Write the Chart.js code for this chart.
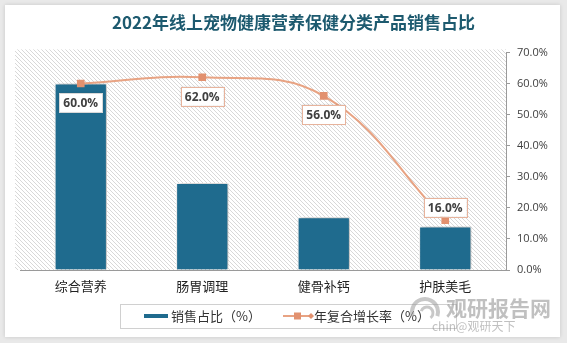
<!DOCTYPE html>
<html>
<head>
<meta charset="utf-8">
<script src="https://cdn.jsdelivr.net/npm/chart.js@4"></script>
<style>
  html, body { margin: 0; padding: 0; background: #e9e9e9; }
  #wrap { width: 567px; height: 343px; }
</style>
</head>
<body>
<div id="wrap"><canvas id="salesChart" width="567" height="343"></canvas></div>
<script>
// 数据
const categories = ['综合营养', '肠胃调理', '健骨补钙', '护肤美毛'];
const salesShare = [60, 28, 17, 14];      // 销售占比（%）
const growthRate = [60, 62, 56, 16];      // 年复合增长率（%）
const yTicks = [0, 10, 20, 30, 40, 50, 60, 70];

const barColor = '#1f6b8e';
const lineColor = '#e8a383';
const pointColor = '#e2916f';

// 斜线底纹
function makeHatch() {
    const c = document.createElement('canvas');
    c.width = 4; c.height = 4;
    const g = c.getContext('2d');
    g.fillStyle = '#ffffff';
    g.fillRect(0, 0, 4, 4);
    g.strokeStyle = '#d8d8d8';
    g.lineWidth = 1;
    g.beginPath();
    g.moveTo(-1, -1); g.lineTo(5, 5);
    g.moveTo(-1, 3); g.lineTo(1, 5);
    g.moveTo(3, -1); g.lineTo(5, 1);
    g.stroke();
    return c;
}

const backgroundPlugin = {
    id: 'cardBackground',
    beforeDraw(chart) {
        const ctx = chart.ctx;
        const area = chart.chartArea;
        ctx.save();
        ctx.fillStyle = '#e9e9e9';
        ctx.fillRect(0, 0, chart.width, chart.height);
        ctx.shadowColor = 'rgba(0,0,0,0.15)';
        ctx.shadowBlur = 4;
        ctx.fillStyle = '#ffffff';
        ctx.fillRect(5, 5, 555, 332);
        ctx.shadowColor = 'transparent';
        ctx.fillStyle = ctx.createPattern(makeHatch(), 'repeat');
        ctx.fillRect(area.left - 5, area.top - 3, area.right - area.left + 5, area.bottom - area.top + 3);
        ctx.restore();
    },
    beforeDatasetDraw(chart, args) {
        if (args.index === 0) {
            const ctx = chart.ctx;
            ctx.save();
            ctx.shadowColor = 'rgba(0,0,0,0.35)';
            ctx.shadowBlur = 6;
            ctx.shadowOffsetX = 2;
        }
    },
    afterDatasetDraw(chart, args) {
        if (args.index === 0) chart.ctx.restore();
    }
};

// 数据标签
const labelPlugin = {
    id: 'pointLabels',
    afterDatasetsDraw(chart) {
        const ctx = chart.ctx;
        const meta = chart.getDatasetMeta(1);
        ctx.save();
        ctx.font = 'bold 12px "Open Sans", "Noto Sans", sans-serif';
        ctx.textAlign = 'center';
        ctx.textBaseline = 'middle';
        meta.data.forEach((pt, i) => {
            const text = growthRate[i].toFixed(1) + '%';
            const w = ctx.measureText(text).width + 8;
            const h = 19;
            const cy = i === 3 ? pt.y - 13 : pt.y + 19;
            ctx.shadowColor = 'rgba(0,0,0,0.2)';
            ctx.shadowBlur = 2;
            ctx.fillStyle = '#ffffff';
            ctx.fillRect(pt.x - w / 2, cy - h / 2, w, h);
            ctx.shadowColor = 'transparent';
            ctx.strokeStyle = i === 0 ? '#d8d8d8' : '#e7b39c';
            ctx.lineWidth = 1;
            ctx.strokeRect(Math.round(pt.x - w / 2) + 0.5, Math.round(cy - h / 2) + 0.5, Math.round(w), h);
            ctx.fillStyle = '#404040';
            ctx.fillText(text, pt.x, cy + 1);
        });
        ctx.restore();
    }
};

// 图例与水印
const legendPlugin = {
    id: 'boxLegend',
    afterDraw(chart) {
        const ctx = chart.ctx;
        ctx.save();
        ctx.strokeStyle = '#d0d0d0';
        ctx.lineWidth = 1;
        ctx.strokeRect(120.5, 304.5, 336, 24);

        ctx.fillStyle = barColor;
        ctx.fillRect(144, 314, 24, 4);
        ctx.font = '13px "Noto Sans CJK SC", sans-serif';
        ctx.textBaseline = 'middle';
        ctx.fillStyle = '#333333';
        ctx.fillText(chart.data.datasets[0].label, 171, 316);

        ctx.strokeStyle = lineColor;
        ctx.lineWidth = 2;
        ctx.beginPath();
        ctx.moveTo(283, 316); ctx.lineTo(311, 316);
        ctx.stroke();
        ctx.fillStyle = pointColor;
        ctx.fillRect(294, 312.5, 7, 7);
        ctx.beginPath();
        ctx.moveTo(311, 313); ctx.lineTo(314, 316); ctx.lineTo(311, 319); ctx.lineTo(308, 316);
        ctx.fill();
        ctx.fillStyle = '#333333';
        ctx.fillText(chart.data.datasets[1].label, 314, 316);

        // 水印
        ctx.globalAlpha = 0.55;
        ctx.strokeStyle = '#9a9a9a';
        ctx.lineWidth = 4;
        ctx.beginPath();
        ctx.arc(425, 312, 13, Math.PI * 0.9, Math.PI * 2.1);
        ctx.stroke();
        ctx.lineWidth = 3;
        ctx.beginPath();
        ctx.arc(427, 313, 6, Math.PI * 1.1, Math.PI * 2.3);
        ctx.stroke();
        ctx.fillStyle = '#8c8c8c';
        ctx.font = 'bold 21px "Noto Sans CJK SC", sans-serif';
        ctx.textBaseline = 'alphabetic';
        ctx.fillText('观研报告网', 446, 316);
        ctx.font = '12px "Noto Sans CJK SC", sans-serif';
        ctx.fillText('chin@观研天下', 432, 331);
        ctx.restore();
    }
};

new Chart(document.getElementById('salesChart'), {
    type: 'bar',
    data: {
        labels: categories,
        datasets: [{
            type: 'bar',
            label: '销售占比（%）',
            data: salesShare,
            backgroundColor: barColor,
            borderColor: '#ffffff',
            borderWidth: 1,
            categoryPercentage: 1,
            barPercentage: 0.43,
            order: 2
        }, {
            type: 'line',
            label: '年复合增长率（%）',
            data: growthRate,
            borderColor: lineColor,
            borderWidth: 2,
            tension: 0.4,
            pointStyle: 'rect',
            pointRadius: 4,
            pointBackgroundColor: pointColor,
            pointBorderColor: pointColor,
            order: 1
        }]
    },
    options: {
        responsive: false,
        animation: false,
        layout: {
            padding: { left: 20, right: 0, top: 0, bottom: 0 }
        },
        plugins: {
            legend: { display: false },
            tooltip: { enabled: false },
            title: {
                display: true,
                text: '2022年线上宠物健康营养保健分类产品销售占比',
                color: '#1d5a6f',
                font: { family: '"Noto Sans CJK SC", sans-serif', size: 17, weight: 'bold' },
                padding: { top: 12, bottom: 20 }
            }
        },
        scales: {
            x: {
                grid: { display: false },
                border: { display: true, color: '#9a9a9a' },
                ticks: {
                    color: '#222222',
                    padding: 0,
                    font: { family: '"Noto Sans CJK SC", sans-serif', size: 13 }
                },
                afterFit(scale) { scale.height = 73; }
            },
            y: {
                position: 'right',
                min: 0,
                max: 70,
                afterBuildTicks(scale) { scale.ticks = yTicks.map(v => ({ value: v })); },
                grid: { drawOnChartArea: false, drawTicks: true, tickLength: 4, color: '#9a9a9a' },
                border: { display: true, color: '#9a9a9a' },
                ticks: {
                    color: '#404040',
                    padding: 7,
                    font: { family: '"Open Sans", "Noto Sans", sans-serif', size: 11 },
                    callback: v => v.toFixed(1) + '%'
                },
                afterFit(scale) { scale.width = 61; }
            }
        }
    },
    plugins: [backgroundPlugin, labelPlugin, legendPlugin]
});
</script>
</body>
</html>
